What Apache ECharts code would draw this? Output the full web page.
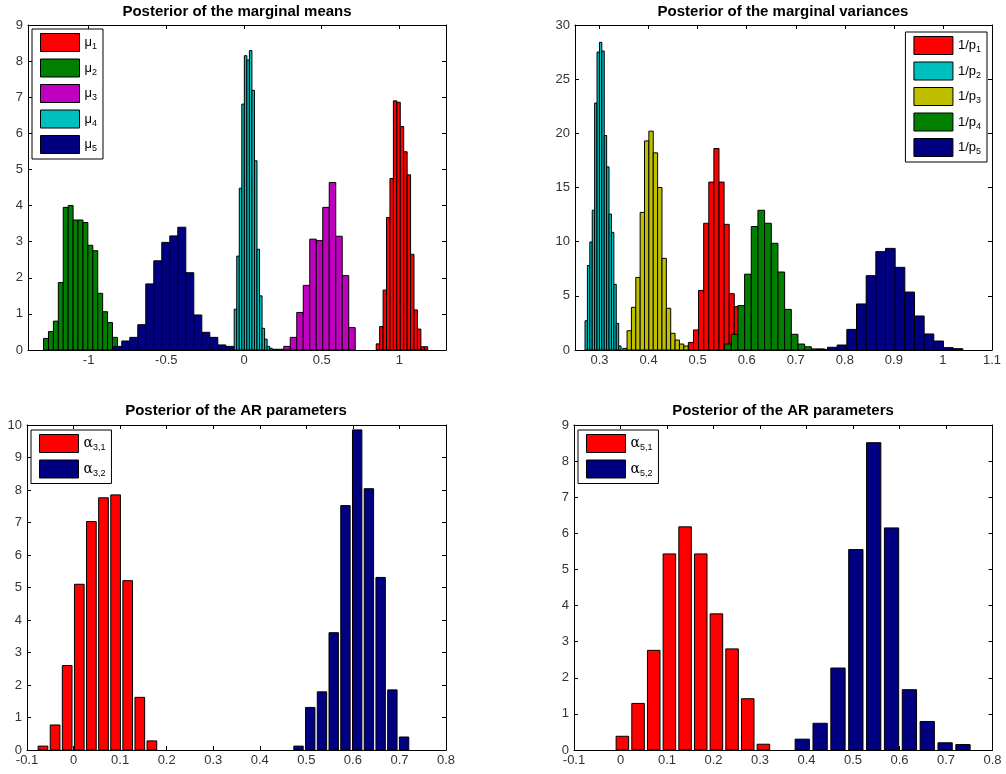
<!DOCTYPE html>
<html><head><meta charset="utf-8">
<script src="https://cdn.jsdelivr.net/npm/echarts@6/dist/echarts.min.js"></script>
<style>html,body{margin:0;padding:0;background:#fff}#c{width:1006px;height:774px}</style>
</head><body><div id="c"></div>
<script>
// ---------- data ----------
// Posterior of the marginal means (15 bins each): first bin left edge, bin width, densities
const meansNames = ['μ1', 'μ2', 'μ3', 'μ4', 'μ5'];
const meansBinStart = [0.851, -1.290, 0.0888, -0.063, -0.838];
const meansBinWidth = [0.0221, 0.0317, 0.0418, 0.0163, 0.0515];
const mu1 = [0.17, 0.65, 1.66, 3.67, 4.75, 6.9, 6.86, 6.19, 5.49, 4.85, 2.65, 1.11, 0.58, 0.09, 0.09];
const mu2 = [0.32, 0.51, 0.80, 1.87, 3.95, 4.0, 3.6, 3.6, 3.53, 2.9, 2.75, 1.57, 1.06, 0.76, 0.35];
const mu3 = [0.01, 0.02, 0.02, 0.02, 0.1, 0.35, 1.04, 1.79, 3.07, 3.03, 3.95, 4.64, 3.15, 2.06, 0.62];
const mu4 = [1.13, 2.6, 4.48, 6.81, 8.15, 8.03, 8.29, 7.19, 5.24, 2.79, 1.5, 0.6, 0.3, 0.1, 0.05];
const mu5 = [0.1, 0.25, 0.35, 0.7, 1.83, 2.47, 2.98, 3.16, 3.4, 2.14, 0.97, 0.49, 0.35, 0.14, 0.1];
const meansTicks = [-1, -0.5, 0, 0.5, 1];

// Posterior of the marginal variances
const varNames = ['1/p1', '1/p2', '1/p3', '1/p4', '1/p5'];
const varBinStart = [0.4811, 0.2704, 0.3472, 0.5549, 0.745];
const varBinWidth = [0.0104, 0.0049, 0.0089, 0.0136, 0.0197];
const var1 = [0.7, 1.85, 5.5, 11.7, 15.5, 18.6, 15.5, 11.6, 5.2, 4.0, 2.1, 1.2, 0.45, 0.2, 0.1];
const var2 = [2.7, 7.8, 9.97, 12.9, 22.8, 27.5, 28.4, 27.6, 19.8, 16.9, 12.55, 10.86, 6.06, 2.46, 0.37];
const var3 = [0.15, 1.78, 3.94, 6.7, 12.7, 19.3, 20.2, 18.2, 15.0, 8.46, 3.85, 1.54, 0.92, 0.55, 0.37];
const var4 = [0.55, 1.45, 4.1, 7.0, 11.4, 12.9, 11.7, 9.85, 7.2, 3.75, 1.45, 0.55, 0.3, 0.1, 0.1];
const var5 = [0.05, 0.25, 0.46, 1.9, 4.25, 6.86, 9.08, 9.38, 7.63, 5.35, 3.14, 1.48, 0.83, 0.22, 0.12];
const varTicks = [0.3, 0.4, 0.5, 0.6, 0.7, 0.8, 0.9, 1, 1.1];

// Posterior of the AR parameters (10 bins each)
const ar3Names = ['α3,1', 'α3,2'];
const ar3BinStart = [-0.0787, 0.4706];
const ar3BinWidth = [0.026, 0.0252];
const ar31 = [0.12, 0.77, 2.6, 5.1, 7.03, 7.76, 7.85, 5.21, 1.62, 0.28];
const ar32 = [0.12, 1.31, 1.79, 3.61, 7.52, 9.85, 8.04, 5.31, 1.85, 0.4];

const ar5Names = ['α5,1', 'α5,2'];
const ar5BinStart = [-0.0128, 0.3717];
const ar5BinWidth = [0.0337, 0.0384];
const ar51 = [0.38, 1.29, 2.76, 5.43, 6.18, 5.43, 3.77, 2.8, 1.42, 0.16];
const ar52 = [0.3, 0.74, 2.27, 5.55, 8.51, 6.15, 1.67, 0.79, 0.2, 0.15];

// ---------- styling ----------
const FONT = 'Liberation Sans, Arial, sans-serif';
const C = { red: '#ff0000', green: '#007f00', magenta: '#bf00bf', cyan: '#00bfbf', yellow: '#bfbf00', navy: '#000080' };

function histSeries(name, color, start, width, values, g, frac) {
  const data = values.map((v, k) => [start + (k + 0.5) * width, v]);
  const half = width * frac / 2;
  return {
    type: 'custom', name: name, xAxisIndex: 2 * g, yAxisIndex: 2 * g, clip: true,
    itemStyle: { color: color, borderColor: '#000', borderWidth: 1 },
    data: data,
    renderItem: function (params, api) {
      const x = api.value(0), h = api.value(1);
      const a = api.coord([x - half, h]);
      const b = api.coord([x + half, 0]);
      return { type: 'rect', shape: { x: a[0], y: a[1], width: b[0] - a[0], height: b[1] - a[1] },
               style: { fill: color, stroke: '#000', lineWidth: 1 } };
    }
  };
}

function xAxes(g, min, max, ticks, interval) {
  const common = {
    type: 'value', gridIndex: g, min: min, max: max,
    axisLine: { show: true, onZero: false, lineStyle: { color: '#000', width: 1 } },
    splitLine: { show: false }
  };
  const bottom = Object.assign({}, common, {
    position: 'bottom',
    axisTick: { show: true, inside: true, length: 4, lineStyle: { color: '#000' } },
    axisLabel: { show: true, color: '#333', fontSize: 13, fontFamily: FONT, margin: 4 }
  });
  const top = Object.assign({}, common, {
    position: 'top',
    axisTick: { show: true, inside: true, length: 4, lineStyle: { color: '#000' } },
    axisLabel: { show: false }
  });
  if (ticks) {
    bottom.axisTick.customValues = ticks; bottom.axisLabel.customValues = ticks;
    top.axisTick.customValues = ticks; top.axisLabel.customValues = ticks;
  } else {
    bottom.interval = interval; top.interval = interval;
  }
  return [bottom, top];
}
function yAxes(g, max, interval) {
  const common = {
    type: 'value', gridIndex: g, min: 0, max: max, interval: interval,
    axisLine: { show: true, onZero: false, lineStyle: { color: '#000', width: 1 } },
    splitLine: { show: false },
    axisTick: { show: true, inside: true, length: 4, lineStyle: { color: '#000' } }
  };
  return [
    Object.assign({}, common, { position: 'left', axisLabel: { show: true, color: '#333', fontSize: 13, fontFamily: FONT, margin: 5 } }),
    Object.assign({}, common, { position: 'right', axisLabel: { show: false } })
  ];
}

const legendCommon = {
  orient: 'vertical', icon: 'rect', itemWidth: 39, itemHeight: 18, itemGap: 6.5, itemTextGap: 5,
  padding: [4, 6, 5, 8], borderColor: '#000', borderWidth: 1, backgroundColor: '#fff',
  selectedMode: false,
  itemStyle: { borderColor: '#000', borderWidth: 1 },
  formatter: function (name) {
    const m = name.match(/^(.*?)([0-9,]+)$/);
    const main = m[1] === 'α' ? '{a|α}' : '{t|' + m[1] + '}';
    return main + '{s|' + m[2] + '}';
  },
  textStyle: {
    color: '#000',
    rich: {
      t: { fontSize: 13, lineHeight: 18, fontFamily: FONT, color: '#000' },
      a: { fontSize: 14, lineHeight: 18, fontFamily: 'DejaVu Serif, serif', color: '#000' },
      s: { fontSize: 9, lineHeight: 9, verticalAlign: 'bottom', fontFamily: FONT, color: '#000' }
    }
  }
};
const titleStyle = { fontSize: 15, fontWeight: 'bold', color: '#000', fontFamily: FONT };

const option = {
  animation: false,
  backgroundColor: '#fff',
  title: [
    { text: 'Posterior of the marginal means', left: 237, top: 4, textAlign: 'center', padding: 0, textStyle: titleStyle },
    { text: 'Posterior of the marginal variances', left: 783, top: 4, textAlign: 'center', padding: 0, textStyle: titleStyle },
    { text: 'Posterior of the AR parameters', left: 236, top: 403, textAlign: 'center', padding: 0, textStyle: titleStyle },
    { text: 'Posterior of the AR parameters', left: 783, top: 403, textAlign: 'center', padding: 0, textStyle: titleStyle }
  ],
  grid: [
    { left: 28, top: 25, width: 418, height: 325 },
    { left: 575, top: 25, width: 417, height: 325 },
    { left: 27, top: 425, width: 419, height: 325 },
    { left: 574, top: 425, width: 418.5, height: 325 }
  ],
  xAxis: [].concat(
    xAxes(0, -1.39, 1.3, meansTicks),
    xAxes(1, 0.25, 1.1, varTicks),
    xAxes(2, -0.1, 0.8, null, 0.1),
    xAxes(3, -0.1, 0.8, null, 0.1)
  ),
  yAxis: [].concat(yAxes(0, 9, 1), yAxes(1, 30, 5), yAxes(2, 10, 1), yAxes(3, 9, 1)),
  legend: [
    Object.assign({}, legendCommon, { data: meansNames, left: 32, top: 29 }),
    Object.assign({}, legendCommon, { data: varNames, right: 19, top: 32 }),
    Object.assign({}, legendCommon, { data: ar3Names, left: 31, top: 430 }),
    Object.assign({}, legendCommon, { data: ar5Names, left: 578, top: 430 })
  ],
  series: [
    histSeries(meansNames[0], C.red, meansBinStart[0], meansBinWidth[0], mu1, 0, 1),
    histSeries(meansNames[1], C.green, meansBinStart[1], meansBinWidth[1], mu2, 0, 1),
    histSeries(meansNames[2], C.magenta, meansBinStart[2], meansBinWidth[2], mu3, 0, 1),
    histSeries(meansNames[3], C.cyan, meansBinStart[3], meansBinWidth[3], mu4, 0, 1),
    histSeries(meansNames[4], C.navy, meansBinStart[4], meansBinWidth[4], mu5, 0, 1),
    histSeries(varNames[0], C.red, varBinStart[0], varBinWidth[0], var1, 1, 1),
    histSeries(varNames[1], C.cyan, varBinStart[1], varBinWidth[1], var2, 1, 1),
    histSeries(varNames[2], C.yellow, varBinStart[2], varBinWidth[2], var3, 1, 1),
    histSeries(varNames[3], C.green, varBinStart[3], varBinWidth[3], var4, 1, 1),
    histSeries(varNames[4], C.navy, varBinStart[4], varBinWidth[4], var5, 1, 1),
    histSeries(ar3Names[0], C.red, ar3BinStart[0], ar3BinWidth[0], ar31, 2, 0.8),
    histSeries(ar3Names[1], C.navy, ar3BinStart[1], ar3BinWidth[1], ar32, 2, 0.8),
    histSeries(ar5Names[0], C.red, ar5BinStart[0], ar5BinWidth[0], ar51, 3, 0.8),
    histSeries(ar5Names[1], C.navy, ar5BinStart[1], ar5BinWidth[1], ar52, 3, 0.8)
  ]
};
const chart = echarts.init(document.getElementById('c'), null, { renderer: 'canvas' });
chart.setOption(option);
</script>
</body></html>
